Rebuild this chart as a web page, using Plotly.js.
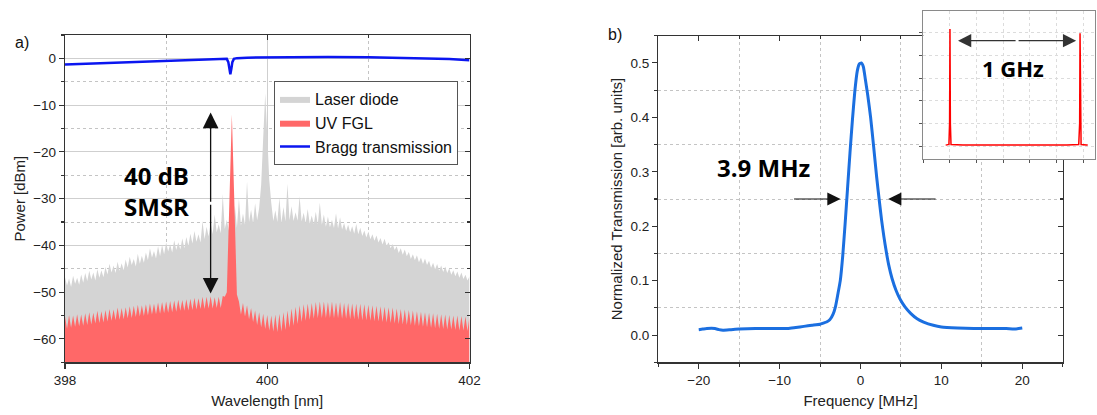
<!DOCTYPE html>
<html>
<head>
<meta charset="utf-8">
<script src="https://cdn.plot.ly/plotly-3.0.1.min.js"></script>
<style>html,body{margin:0;padding:0;background:#fff;}#chart{width:1097px;height:415px;}</style>
</head>
<body>
<div id="chart"></div>
<script>
// ---------- Panel a) : optical spectra ----------
const wl = [
398.00,398.02,398.04,398.06,398.08,398.10,398.12,398.14,398.16,398.18,
398.20,398.22,398.24,398.26,398.28,398.30,398.32,398.34,398.36,398.38,
398.40,398.42,398.44,398.46,398.48,398.50,398.52,398.54,398.56,398.58,
398.60,398.62,398.64,398.66,398.68,398.70,398.72,398.74,398.76,398.78,
398.80,398.82,398.84,398.86,398.88,398.90,398.92,398.94,398.96,398.98,
399.00,399.02,399.04,399.06,399.08,399.10,399.12,399.14,399.16,399.18,
399.20,399.22,399.24,399.26,399.28,399.30,399.32,399.34,399.36,399.38,
399.40,399.42,399.44,399.46,399.48,399.50,399.52,399.54,399.56,399.58,
399.60,399.62,399.64,399.65,399.66,399.68,399.70,399.72,399.74,399.76,399.78,
399.80,399.82,399.84,399.86,399.88,399.90,399.92,399.94,399.96,399.98,
400.00,400.02,400.04,400.06,400.08,400.10,400.12,400.14,400.16,400.18,
400.20,400.22,400.24,400.26,400.28,400.30,400.32,400.34,400.36,400.38,
400.40,400.42,400.44,400.46,400.48,400.50,400.52,400.54,400.56,400.58,
400.60,400.62,400.64,400.66,400.68,400.70,400.72,400.74,400.76,400.78,
400.80,400.82,400.84,400.86,400.88,400.90,400.92,400.94,400.96,400.98,
401.00,401.02,401.04,401.06,401.08,401.10,401.12,401.14,401.16,401.18,
401.20,401.22,401.24,401.26,401.28,401.30,401.32,401.34,401.36,401.38,
401.40,401.42,401.44,401.46,401.48,401.50,401.52,401.54,401.56,401.58,
401.60,401.62,401.64,401.66,401.68,401.70,401.72,401.74,401.76,401.78,
401.80,401.82,401.84,401.86,401.88,401.90,401.92,401.94,401.96,401.98,
402.00];

const laserDiodeDbm = [
-46.8,-48.6,-47.1,-48.9,-46.5,-48.2,-46.9,-48.4,-46.2,-48.0,
-45.9,-47.6,-45.4,-47.3,-45.8,-47.5,-45.1,-46.9,-45.3,-46.8,
-44.6,-46.2,-43.9,-45.8,-44.3,-45.9,-43.5,-45.4,-43.8,-45.3,
-43.0,-44.7,-42.4,-44.2,-42.9,-44.5,-41.8,-43.9,-42.2,-43.7,
-41.5,-43.2,-40.6,-42.6,-41.2,-42.8,-40.2,-42.3,-39.9,-41.9,
-39.4,-41.3,-39.8,-41.5,-38.9,-41.0,-39.3,-40.9,-38.5,-40.6,
-38.2,-40.1,-37.5,-39.6,-36.9,-39.2,-37.6,-39.4,-34.8,-38.7,
-36.0,-38.1,-35.2,-37.6,-33.4,-37.2,-35.5,-37.4,-29.0,-36.5,
-34.5,-36.8,-33.9,-35.0,-36.5,-31.5,-36.2,-30.0,-35.8,-33.2,-35.6,
-26.3,-35.0,-32.4,-35.2,-31.0,-34.6,-32.0,-27.0,-17.0,-7.5,
-16.5,-26.0,-31.0,-34.8,-32.5,-35.0,-29.8,-35.2,-31.8,-34.9,
-26.8,-34.6,-31.6,-34.8,-32.9,-34.7,-29.5,-34.9,-33.0,-35.2,
-32.2,-35.3,-33.6,-35.4,-32.8,-35.5,-30.9,-35.6,-33.4,-36.0,
-33.8,-36.1,-34.5,-36.3,-33.1,-36.4,-34.0,-36.6,-35.2,-36.9,
-35.6,-37.2,-35.9,-37.5,-35.4,-37.6,-36.2,-38.0,-36.8,-38.3,
-37.0,-38.7,-37.6,-39.0,-37.9,-39.4,-38.4,-39.8,-38.6,-40.1,
-39.3,-40.6,-39.7,-41.0,-40.2,-41.6,-40.6,-42.0,-40.9,-42.3,
-41.4,-42.9,-41.9,-43.2,-42.1,-43.6,-42.6,-44.0,-42.8,-44.2,
-43.3,-44.8,-43.7,-45.1,-44.0,-45.4,-44.3,-45.7,-44.5,-45.9,
-44.9,-46.3,-45.3,-46.6,-45.6,-46.9,-45.8,-47.2,-46.3,-47.5,
-46.6];

const uvFglDbm = [
-55.2,-57.8,-54.9,-57.6,-55.0,-57.4,-54.7,-57.3,-54.8,-57.2,
-54.5,-57.0,-54.3,-56.9,-54.4,-56.7,-54.0,-56.6,-54.1,-56.5,
-53.8,-56.3,-53.6,-56.1,-53.7,-56.0,-53.3,-55.9,-53.4,-55.8,
-53.2,-55.6,-53.0,-55.5,-52.9,-55.3,-52.7,-55.2,-52.8,-55.1,
-52.6,-55.0,-52.4,-54.8,-52.5,-54.7,-52.2,-54.6,-52.1,-54.5,
-52.0,-54.4,-51.9,-54.3,-51.8,-54.2,-51.6,-54.0,-51.7,-54.0,
-51.5,-53.9,-51.4,-53.8,-51.2,-53.7,-51.3,-53.6,-51.0,-53.6,
-51.0,-53.5,-50.9,-53.5,-51.1,-53.4,-51.0,-53.4,-50.8,-51.0,
-50.0,-35.0,-19.0,-12.0,-19.5,-37.0,-50.5,-52.0,-54.8,-52.3,-55.2,
-52.8,-55.8,-53.4,-56.4,-53.9,-57.0,-54.3,-57.5,-54.6,-57.9,
-54.9,-58.2,-55.0,-58.4,-54.8,-58.5,-54.6,-58.4,-54.3,-58.1,
-53.9,-57.6,-53.5,-57.2,-53.1,-56.8,-52.8,-56.4,-52.6,-56.1,
-52.4,-55.9,-52.3,-55.7,-52.1,-55.6,-52.0,-55.5,-52.0,-55.5,
-52.1,-55.5,-52.0,-55.6,-52.2,-55.6,-52.1,-55.7,-52.3,-55.7,
-52.3,-55.8,-52.4,-55.8,-52.5,-55.9,-52.5,-56.0,-52.6,-56.0,
-52.7,-56.1,-52.8,-56.2,-52.9,-56.3,-53.0,-56.4,-53.1,-56.5,
-53.2,-56.6,-53.3,-56.7,-53.5,-56.8,-53.6,-56.9,-53.7,-57.0,
-53.8,-57.1,-53.9,-57.2,-54.1,-57.3,-54.2,-57.4,-54.3,-57.5,
-54.4,-57.6,-54.5,-57.7,-54.6,-57.8,-54.7,-57.9,-54.8,-58.0,
-54.9,-58.0,-55.0,-58.1,-55.0,-58.2,-55.1,-58.2,-55.2,-58.3,
-55.2];

const braggWl = [398.00,398.20,398.40,398.60,398.80,399.00,399.20,399.40,399.55,399.60,399.615,399.625,399.635,399.645,399.655,399.67,399.70,399.80,400.00,400.30,400.60,401.00,401.40,401.80,402.00];
const braggDb = [-1.3,-1.15,-1.0,-0.8,-0.6,-0.45,-0.3,-0.15,-0.05,-0.1,-0.8,-2.2,-3.4,-2.2,-0.8,-0.1,0.05,0.15,0.2,0.3,0.3,0.25,0.1,-0.15,-0.4];

// ---------- Panel b) : cavity transmission ----------
const freqMHz = [-20.0,-19.5,-19.0,-18.0,-17.5,-17.0,-16.0,-15.0,-13.0,-11.0,-9.0,-8.0,-7.0,-6.0,-5.0,-4.6,-4.2,-3.8,-3.4,-3.1,-2.8,-2.5,-2.2,-1.9,-1.6,-1.3,-1.0,-0.7,-0.4,-0.15,0.1,0.35,0.6,0.9,1.25,1.6,2.0,2.3,2.6,2.9,3.2,3.5,3.9,4.4,4.9,5.5,6.2,7.0,7.8,9.0,10.0,12.0,14.0,16.0,18.0,19.0,20.0];
const transNorm = [0.010,0.011,0.012,0.012,0.010,0.009,0.010,0.011,0.012,0.012,0.012,0.014,0.016,0.018,0.020,0.022,0.024,0.028,0.038,0.052,0.075,0.100,0.145,0.205,0.27,0.335,0.395,0.448,0.485,0.498,0.50,0.493,0.47,0.44,0.40,0.35,0.29,0.25,0.212,0.18,0.152,0.128,0.104,0.082,0.066,0.052,0.040,0.030,0.024,0.018,0.015,0.013,0.012,0.012,0.012,0.011,0.013];

// ---------- Inset : free spectral range ----------
const insetGHz = [-0.033,-0.02,-0.008,-0.003,0.0,0.003,0.008,0.1,0.3,0.5,0.7,0.85,0.9,0.99,0.997,1.0,1.003,1.008,1.05,1.059];
const insetTrans = [0.005,0.006,0.008,0.1,0.518,0.1,0.008,0.006,0.006,0.005,0.006,0.004,0.006,0.008,0.1,0.499,0.1,0.008,0.006,0.006];

// ---------- annotation values ----------
const rangeA = [-65, 5], rangeAx = [398, 402];
const rangeB = [-0.05, 0.55], rangeBx = [-25, 25];
const rangeIx = [-0.205, 1.115], rangeIy = [-0.0575, 0.597];
const smsr = {wl: 399.44, top: -11.6, bottom: -50.3, mid: -31};
const fwhm = {y: 0.25, leftTail: -8.4, leftHead: -2.47, rightHead: 3.42, rightTail: 9.47};
const fsr = {y: 0.466, left: 0.062, right: 0.97, mid: 0.516};

const axLine = {showline:true, linecolor:'#333', linewidth:1.2, ticks:'outside', ticklen:5, tickwidth:1.1, tickcolor:'#333', zeroline:false};
const majGrid = '#cfcfcf';
const dotGrid = '#c4c4c4';

const traces = [
  {x: rangeAx, y: [rangeA[0]-5, rangeA[0]-5], mode:'lines', line:{width:0}, showlegend:false, hoverinfo:'skip', xaxis:'x', yaxis:'y'},
  {x: wl, y: laserDiodeDbm, mode:'lines', fill:'tonexty', fillcolor:'#d4d4d4', line:{width:0, color:'#d4d4d4'}, name:'Laser diode', xaxis:'x', yaxis:'y'},
  {x: rangeAx, y: [rangeA[0]-5, rangeA[0]-5], mode:'lines', line:{width:0}, showlegend:false, hoverinfo:'skip', xaxis:'x', yaxis:'y'},
  {x: wl, y: uvFglDbm, mode:'lines', fill:'tonexty', fillcolor:'#ff6868', line:{width:0, color:'#ff6868'}, name:'UV FGL', xaxis:'x', yaxis:'y'},
  {x: braggWl, y: braggDb, mode:'lines', line:{width:2.5, color:'#0b16f0'}, name:'Bragg transmission', xaxis:'x', yaxis:'y'},
  {x: freqMHz, y: transNorm, mode:'lines', line:{width:3, color:'#1b6fe0', shape:'spline', smoothing:0.5}, showlegend:false, xaxis:'x2', yaxis:'y2'},
  {x: insetGHz, y: insetTrans, mode:'lines', line:{width:1.5, color:'#ff0000'}, showlegend:false, xaxis:'x3', yaxis:'y3'},
  {x: [], y: [], showlegend:false, xaxis:'x4', yaxis:'y'},
  {x: [], y: [], showlegend:false, xaxis:'x', yaxis:'y4'},
  {x: [], y: [], showlegend:false, xaxis:'x5', yaxis:'y2'},
  {x: [], y: [], showlegend:false, xaxis:'x2', yaxis:'y5'}
];

const domA = [65/1097, 469.5/1097], domAy = [1-362.3/415, 1-35/415];
const domB = [658.3/1097, 1062.7/1097], domBy = [1-362.3/415, 1-35.7/415];

const layout = {
  width:1097, height:415,
  margin:{l:0, r:0, t:0, b:0},
  paper_bgcolor:'#fff', plot_bgcolor:'#fff',
  font:{family:'Liberation Sans, Arial, sans-serif', size:13.5, color:'#222'},
  showlegend:true,
  legend:{x:274/1097, y:1-81/415, xanchor:'left', yanchor:'top', bgcolor:'#fff', bordercolor:'#555', borderwidth:1, font:{size:16, color:'#111'}, tracegroupgap:0, traceorder:'normal'},
  xaxis: Object.assign({}, axLine, {domain:domA, anchor:'y', range:rangeAx, tick0:398, dtick:2, showgrid:true, gridcolor:majGrid, gridwidth:1,
    minor:{dtick:1, ticks:'outside', ticklen:3, tickcolor:'#333', showgrid:true, gridcolor:dotGrid, griddash:'dot'},
    title:{text:'Wavelength [nm]', font:{size:15}, standoff:8}}),
  yaxis: Object.assign({}, axLine, {domain:domAy, anchor:'x', range:rangeA, tick0:0, dtick:10, showgrid:true, gridcolor:majGrid, gridwidth:1,
    minor:{dtick:5, ticks:'outside', ticklen:3, tickcolor:'#333', showgrid:true, gridcolor:dotGrid, griddash:'dot'},
    title:{text:'Power [dBm]', font:{size:15}, standoff:4}}),
  xaxis4: Object.assign({}, axLine, {overlaying:'x', side:'top', anchor:'y', range:rangeAx, tick0:398, dtick:2, ticks:'inside', showticklabels:false, showgrid:false,
    minor:{dtick:1, ticks:'inside', ticklen:3, tickcolor:'#333', showgrid:false}}),
  yaxis4: Object.assign({}, axLine, {overlaying:'y', side:'right', anchor:'x', range:rangeA, tick0:0, dtick:10, ticks:'inside', showticklabels:false, showgrid:false,
    minor:{dtick:5, ticks:'inside', ticklen:3, tickcolor:'#333', showgrid:false}}),
  xaxis2: Object.assign({}, axLine, {domain:domB, anchor:'y2', range:rangeBx, tick0:0, dtick:10, showgrid:false,
    minor:{dtick:5, ticks:'outside', ticklen:3, tickcolor:'#333', showgrid:true, gridcolor:dotGrid, griddash:'dot'},
    title:{text:'Frequency [MHz]', font:{size:15}, standoff:8}}),
  yaxis2: Object.assign({}, axLine, {domain:domBy, anchor:'x2', range:rangeB, tick0:0, dtick:0.1, tickformat:'.1f', showgrid:false,
    minor:{dtick:0.05, ticks:'outside', ticklen:3, tickcolor:'#333', showgrid:true, gridcolor:dotGrid, griddash:'dot'},
    title:{text:'Normalized Transmission [arb. units]', font:{size:15}, standoff:4}}),
  xaxis5: Object.assign({}, axLine, {overlaying:'x2', side:'top', anchor:'y2', range:rangeBx, tick0:0, dtick:10, ticks:'inside', showticklabels:false, showgrid:false,
    minor:{dtick:5, ticks:'inside', ticklen:3, tickcolor:'#333', showgrid:false}}),
  yaxis5: Object.assign({}, axLine, {overlaying:'y2', side:'right', anchor:'x2', range:rangeB, tick0:0, dtick:0.1, ticks:'inside', showticklabels:false, showgrid:false,
    minor:{dtick:0.05, ticks:'inside', ticklen:3, tickcolor:'#333', showgrid:false}}),
  xaxis3: {domain:[923.3/1097, 1095/1097], anchor:'y3', range:rangeIx, tick0:0, dtick:0.205, showticklabels:false, showline:true, linecolor:'#8a8a8a', linewidth:1, mirror:true,
    ticks:'outside', ticklen:3, tickcolor:'#555', zeroline:false, showgrid:true, gridcolor:'#dcdcdc', griddash:'dot'},
  yaxis3: {domain:[1-159.3/415, 1-11/415], anchor:'x3', range:rangeIy, tick0:0, dtick:0.1, showticklabels:false, showline:true, linecolor:'#8a8a8a', linewidth:1, mirror:true,
    ticks:'outside', ticklen:3, tickcolor:'#555', zeroline:false, showgrid:true, gridcolor:'#dcdcdc', griddash:'dot'},
  annotations:[
    {text:'a)', xref:'paper', yref:'paper', x:13/1097, y:1-43/415, xanchor:'left', yanchor:'middle', showarrow:false, font:{size:16, color:'#111'}},
    {text:'b)', xref:'paper', yref:'paper', x:606/1097, y:1-35/415, xanchor:'left', yanchor:'middle', showarrow:false, font:{size:16, color:'#111'}},
    {text:'<b>40 dB</b><br><b>SMSR</b>', xref:'paper', yref:'paper', x:156/1097, y:1-191/415, xanchor:'center', yanchor:'middle', showarrow:false,
      font:{family:'Open Sans, Noto Sans, sans-serif', size:24, color:'#000'}},
    {text:'', xref:'x', yref:'y', axref:'x', ayref:'y', x:smsr.wl, y:smsr.top, ax:smsr.wl, ay:smsr.mid, showarrow:true, arrowhead:2, arrowsize:2.4, arrowwidth:1.3, arrowcolor:'#111'},
    {text:'', xref:'x', yref:'y', axref:'x', ayref:'y', x:smsr.wl, y:smsr.bottom, ax:smsr.wl, ay:smsr.mid, showarrow:true, arrowhead:2, arrowsize:2.4, arrowwidth:1.3, arrowcolor:'#111'},
    {text:'<b>3.9 MHz</b>', xref:'x2', yref:'y2', x:-12.0, y:0.307, xanchor:'center', yanchor:'middle', showarrow:false,
      font:{family:'Open Sans, Noto Sans, sans-serif', size:24, color:'#000'}},
    {text:'', xref:'x2', yref:'y2', axref:'x2', ayref:'y2', x:fwhm.leftHead, y:fwhm.y, ax:fwhm.leftTail, ay:fwhm.y, showarrow:true, arrowhead:2, arrowsize:2.2, arrowwidth:1.2, arrowcolor:'#111'},
    {text:'', xref:'x2', yref:'y2', axref:'x2', ayref:'y2', x:fwhm.rightHead, y:fwhm.y, ax:fwhm.rightTail, ay:fwhm.y, showarrow:true, arrowhead:2, arrowsize:2.2, arrowwidth:1.2, arrowcolor:'#111'},
    {text:'<b>1 GHz</b>', xref:'x3', yref:'y3', x:0.487, y:0.345, xanchor:'center', yanchor:'middle', showarrow:false,
      font:{family:'Open Sans, Noto Sans, sans-serif', size:22, color:'#000'}},
    {text:'', xref:'x3', yref:'y3', axref:'x3', ayref:'y3', x:fsr.left, y:fsr.y, ax:fsr.mid, ay:fsr.y, showarrow:true, arrowhead:2, arrowsize:2.2, arrowwidth:1.2, arrowcolor:'#333'},
    {text:'', xref:'x3', yref:'y3', axref:'x3', ayref:'y3', x:fsr.right, y:fsr.y, ax:fsr.mid, ay:fsr.y, showarrow:true, arrowhead:2, arrowsize:2.2, arrowwidth:1.2, arrowcolor:'#333'}
  ]
};

Plotly.newPlot('chart', traces, layout, {displayModeBar:false, staticPlot:true});
</script>
</body>
</html>
